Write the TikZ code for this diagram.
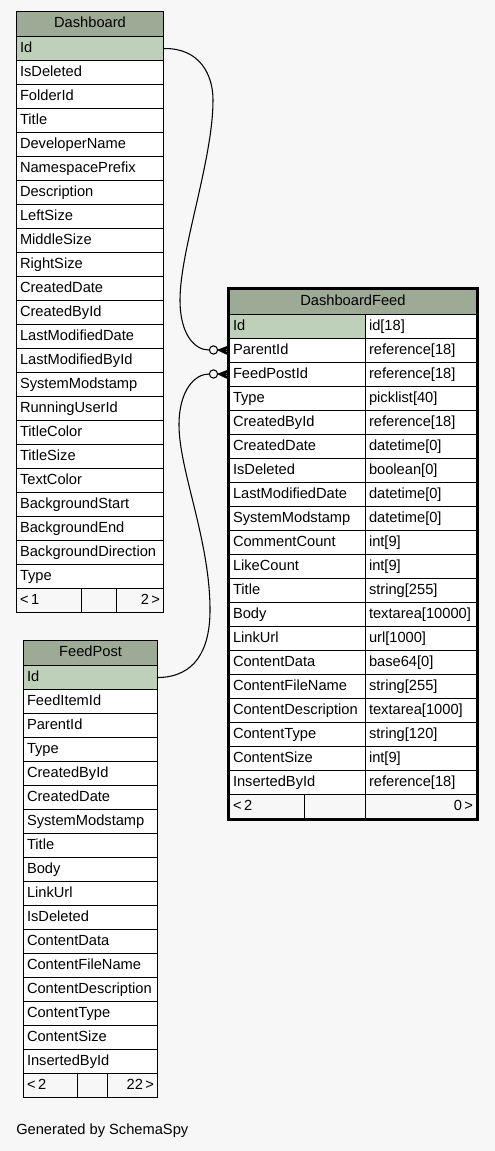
\documentclass[tikz,border=0pt]{standalone}
\usepackage{fontspec}
\setmainfont{Liberation Sans}
\usetikzlibrary{positioning}
\definecolor{headgreen}{HTML}{9DAB96}
\definecolor{keygreen}{HTML}{BED0B9}
\definecolor{bggray}{HTML}{F7F7F7}
\tikzset{
  cell/.style={rectangle, draw, fill=white, anchor=north west, line width=0.8pt,
    minimum height=18pt, inner xsep=2.6pt, inner ysep=0pt,
    text height=8pt, text depth=2.2pt, align=left},
  keycell/.style={cell, fill=keygreen},
  tabhead/.style={cell, fill=headgreen, minimum height=18.75pt, align=center},
  footcell/.style={cell, fill=bggray},
  endring/.style={circle, draw, fill=bggray, minimum size=6.2pt, inner sep=0pt, line width=0.8pt}
}
\begin{document}
\begin{tikzpicture}[x=0.75pt, y=-0.75pt, font=\fontsize{11}{13}\selectfont]
  \useasboundingbox[fill=bggray] (0,0) rectangle (495,1151);
  % Dashboard table
  \node [tabhead, text width=105.05pt] (dash) at (16,11) {Dashboard};
  \node [keycell, text width=105.05pt] (dash-1) at (16,36) {Id};
  \foreach \fld [count=\i from 2] in {IsDeleted, FolderId, Title, DeveloperName,
      NamespacePrefix, Description, LeftSize, MiddleSize, RightSize, CreatedDate,
      CreatedById, LastModifiedDate, LastModifiedById, SystemModstamp, RunningUserId,
      TitleColor, TitleSize, TextColor, BackgroundStart, BackgroundEnd,
      BackgroundDirection, Type}
    \node [cell, text width=105.05pt] (dash-\i) at (16,{36+24*(\i-1)}) {\fld};
  \node [footcell, text width=43.55pt] (dashf-1) at (16,588) {<\,1};
  \node [footcell, text width=21.05pt] (dashf-2) at (81,588) {};
  \node [footcell, text width=30.05pt, align=right] (dashf-3) at (116,588) {2\,>};
  % FeedPost table
  \node [tabhead, text width=95.3pt] (feed) at (23,640) {FeedPost};
  \node [keycell, text width=95.3pt] (feed-1) at (23,665) {Id};
  \foreach \fld [count=\i from 2] in {FeedItemId, ParentId, Type, CreatedById,
      CreatedDate, SystemModstamp, Title, Body, LinkUrl, IsDeleted, ContentData,
      ContentFileName, ContentDescription, ContentType, ContentSize, InsertedById}
    \node [cell, text width=95.3pt] (feed-\i) at (23,{665+24*(\i-1)}) {\fld};
  \node [footcell, text width=35.3pt] (feedf-1) at (23,1073) {<\,2};
  \node [footcell, text width=17.3pt] (feedf-2) at (77,1073) {};
  \node [footcell, text width=32.3pt, align=right] (feedf-3) at (107,1073) {22\,>};
  % DashboardFeed table
  \node [tabhead, text width=179.85pt] (df) at (229,289) {DashboardFeed};
  \node [keycell, text width=96.8pt] (df-1) at (229,314) {Id};
  \node [cell, text width=78.05pt] (dft-1) at (365,314) {id[18]};
  \foreach \fld/\typ [count=\i from 2] in {ParentId/reference[18],
      FeedPostId/reference[18], Type/picklist[40], CreatedById/reference[18],
      CreatedDate/datetime[0], IsDeleted/boolean[0], LastModifiedDate/datetime[0],
      SystemModstamp/datetime[0], CommentCount/int[9], LikeCount/int[9],
      Title/string[255], Body/textarea[10000], LinkUrl/url[1000],
      ContentData/base64[0], ContentFileName/string[255],
      ContentDescription/textarea[1000], ContentType/string[120],
      ContentSize/int[9], InsertedById/reference[18]}
  {
    \node [cell, text width=96.8pt] (df-\i) at (229,{314+24*(\i-1)}) {\fld};
    \node [cell, text width=78.05pt] (dft-\i) at (365,{314+24*(\i-1)}) {\typ};
  }
  \node [footcell, text width=51.05pt] (dff-1) at (229,794) {<\,2};
  \node [footcell, text width=40.55pt] (dff-2) at (304,794) {};
  \node [footcell, text width=78.05pt, align=right] (dff-3) at (365,794) {0\,>};
  \draw [line width=1.6pt] ([shift={(-0.4pt,0.4pt)}]df.north west)
    rectangle ([shift={(0.4pt,-0.4pt)}]dff-3.south east);
  % relationship ends
  \node [endring] (pc) at (213.5,350) {};
  \node [endring] (fc) at (213.5,374) {};
  \foreach \e/\r in {pc/df-2, fc/df-3}
  {
    \fill (\e.east) -- ([yshift=3.5pt]\r.west) -- ([xshift=-2.5pt]\r.west)
      -- ([yshift=-3.5pt]\r.west) -- cycle;
    \draw [line width=0.8pt] (\e.east) -- ([yshift=3.5pt]\r.west)
      (\e.east) -- (\r.west) (\e.east) -- ([yshift=-3.5pt]\r.west);
  }
  % relationships
  \draw [line width=0.8pt] (dash-1.east) .. controls (200,48) and (213,75) .. (213,100)
    .. controls (213,160) and (180,250) .. (180,300)
    .. controls (180,335) and (195,350) .. (pc.west);
  \draw [line width=0.8pt] (feed-1.east) .. controls (195,677) and (210,650) .. (210,610)
    .. controls (210,540) and (179,470) .. (179,425)
    .. controls (179,390) and (195,374) .. (fc.west);
  \node [anchor=west, inner sep=0pt] (credit) at (16,1131) {Generated by SchemaSpy};
\end{tikzpicture}
\end{document}
